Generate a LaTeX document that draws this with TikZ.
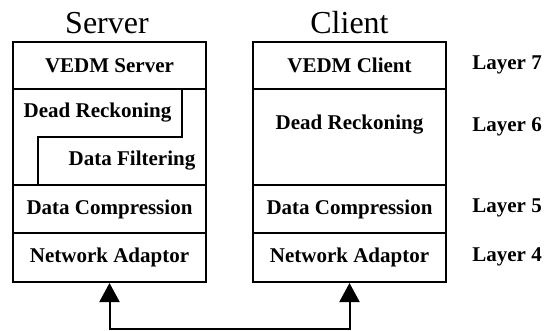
\documentclass[tikz,border=0pt]{standalone}
\usepackage{fontspec}
\setmainfont{Liberation Serif}
\usetikzlibrary{arrows.meta, positioning}

\tikzset{
    layerbox/.style={draw, line width=1pt, minimum width=96.5pt, inner sep=0pt,
        font=\bfseries\fontsize{10.5}{12}\selectfont},
    layertext/.style={inner sep=0pt, font=\bfseries\fontsize{10.5}{12}\selectfont},
    sidetitle/.style={inner sep=0pt, font=\fontsize{16}{18}\selectfont},
}

\begin{document}
\begin{tikzpicture}[
    x=0.5pt, y=-0.5pt,
    >={Triangle[width=10pt,length=9.5pt]},
]
\useasboundingbox (0,0) rectangle (550,331);
% titles
\node[sidetitle] (srvtitle) at (107,23) {Server};
\node[sidetitle] (clititle) at (349.5,23) {Client};
% server stack
\node[layerbox, minimum height=23.5pt] (srvtop) at (109.5,65.5) {VEDM Server};
\draw[line width=1pt] (13,89) -- (13,185) (206,89) -- (206,185);
\draw[line width=1pt] (38,185) -- (38,137) -- (182,137) -- (182,89);
\node[layertext] (srvdr) at (97.5,113) {Dead Reckoning};
\node[layertext] (srvdf) at (132,161) {Data Filtering};
\node[layerbox, minimum height=24pt] (srvdc) at (109.5,209) {Data Compression};
\node[layerbox, minimum height=24.5pt] (srvna) at (109.5,257.5) {Network Adaptor};
% client stack
\node[layerbox, minimum height=23.5pt] (clitop) at (349.5,65.5) {VEDM Client};
\node[layerbox, minimum height=48pt] (clibox) at (349.5,137) {};
\node[layertext] (clidr) at (349.5,125) {Dead Reckoning};
\node[layerbox, minimum height=24pt] (clidc) at (349.5,209) {Data Compression};
\node[layerbox, minimum height=24.5pt] (clina) at (349.5,257.5) {Network Adaptor};
% layer numbers
\node[layertext, anchor=west] (l7) at (472,65) {Layer 7};
\node[layertext, anchor=west] (l6) at (472,127) {Layer 6};
\node[layertext, anchor=west] (l5) at (472,208) {Layer 5};
\node[layertext, anchor=west] (l4) at (472,257) {Layer 4};
% link between the adaptors
\coordinate (link) at (230,329);
\draw[<->, line width=1pt] (srvna.south) |- (link) -| (clina.south);
\end{tikzpicture}
\end{document}
